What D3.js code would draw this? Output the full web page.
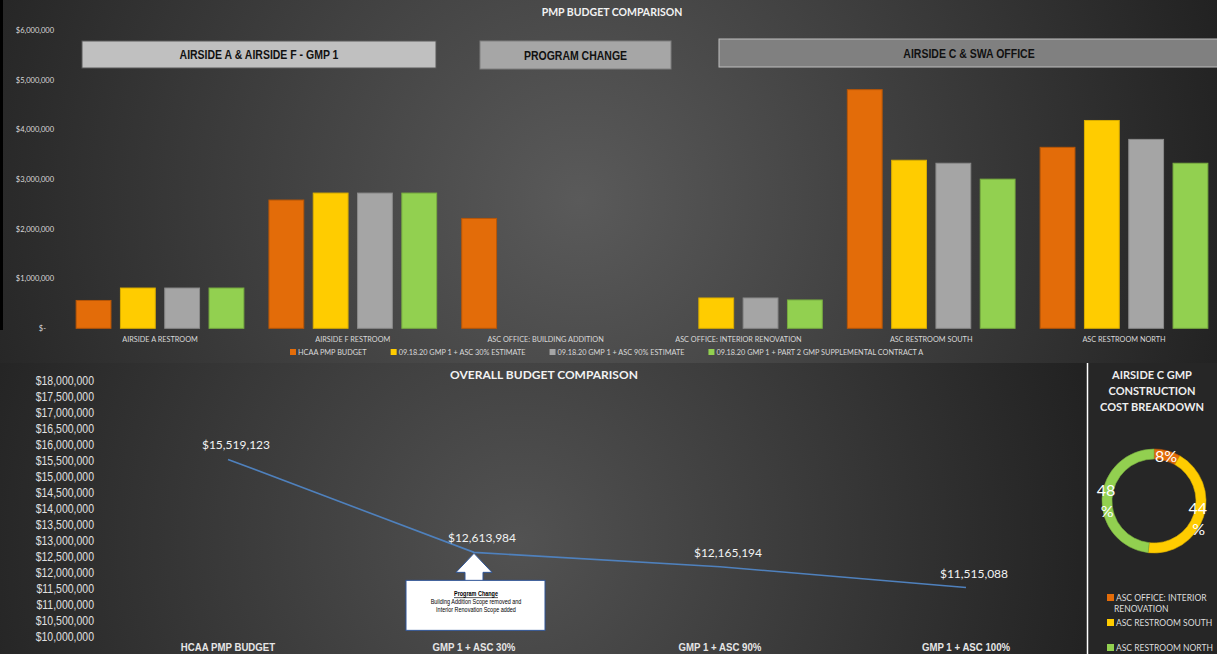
<!DOCTYPE html>
<html>
<head>
<meta charset="utf-8">
<script src="https://cdn.jsdelivr.net/npm/d3@7"></script>
<style>
  body { margin: 0; background: #262626; }
  svg { display: block; }
</style>
</head>
<body>
<svg id="chart" width="1217" height="654"></svg>
<script>
// top chart data
var categories = ['AIRSIDE A RESTROOM', 'AIRSIDE F RESTROOM', 'ASC OFFICE: BUILDING ADDITION',
                  'ASC OFFICE: INTERIOR RENOVATION', 'ASC RESTROOM SOUTH', 'ASC RESTROOM NORTH'];
var seriesNames = ['HCAA PMP BUDGET', '09.18.20 GMP 1 + ASC 30% ESTIMATE',
                   '09.18.20 GMP 1 + ASC 90% ESTIMATE', '09.18.20 GMP 1 + PART 2 GMP SUPPLEMENTAL CONTRACT A'];
var hcaa      = [560000, 2580000, 2210000, null, 4800000, 3640000];
var gmp30     = [810000, 2720000, null, 610000, 3380000, 4180000];
var gmp90     = [810000, 2720000, null, 610000, 3320000, 3800000];
var gmpPart2  = [810000, 2720000, null, 570000, 3000000, 3320000];
var topTicks  = [0, 1000000, 2000000, 3000000, 4000000, 5000000, 6000000];
var groupHeaders = ['AIRSIDE A & AIRSIDE F - GMP 1', 'PROGRAM CHANGE', 'AIRSIDE C & SWA OFFICE'];

// bottom chart data
var stages = ['HCAA PMP BUDGET', 'GMP 1 + ASC 30%', 'GMP 1  + ASC 90%', 'GMP 1 + ASC 100%'];
var totals = [15519123, 12613984, 12165194, 11515088];

// donut data (airside C GMP = last series)
var donutNames = ['ASC OFFICE: INTERIOR RENOVATION', 'ASC RESTROOM SOUTH', 'ASC RESTROOM NORTH'];
var donutValues = [gmpPart2[3], gmpPart2[4], gmpPart2[5]];

var colors = ['#e36c09', '#ffcc00', '#a5a5a5', '#92d050'];
var strokes = ['#b85607', '#d9ad00', '#8a8a8a', '#78ad40'];

var NARROW = 'scale(0.84,1)';

var svg = d3.select('#chart');
var defs = svg.append('defs');

var g1 = defs.append('radialGradient').attr('id', 'bgTop')
  .attr('gradientUnits', 'userSpaceOnUse')
  .attr('cx', 580).attr('cy', 200).attr('r', 700);
g1.append('stop').attr('offset', 0).attr('stop-color', '#5a5a5a');
g1.append('stop').attr('offset', 1).attr('stop-color', '#1f1f1f');

var g2 = defs.append('radialGradient').attr('id', 'bgBot')
  .attr('gradientUnits', 'userSpaceOnUse')
  .attr('cx', 520).attr('cy', 540).attr('r', 620);
g2.append('stop').attr('offset', 0).attr('stop-color', '#525252');
g2.append('stop').attr('offset', 1).attr('stop-color', '#1f1f1f');

// backgrounds
svg.append('rect').attr('x', 0).attr('y', 0).attr('width', 1217).attr('height', 363).attr('fill', 'url(#bgTop)');
svg.append('rect').attr('x', 0).attr('y', 363).attr('width', 1087).attr('height', 291).attr('fill', 'url(#bgBot)');
svg.append('rect').attr('x', 1087).attr('y', 363).attr('width', 130).attr('height', 291).attr('fill', '#262626');
svg.append('line').attr('x1', 1087.5).attr('x2', 1087.5).attr('y1', 363).attr('y2', 654)
  .attr('stroke', '#ffffff').attr('stroke-width', 1.5);
svg.append('rect').attr('x', 0).attr('y', 0).attr('width', 3).attr('height', 330).attr('fill', '#000');

// narrow text helper (Arial Narrow look)
function narrowText(parent, x, y, s) {
  return parent.append('text').attr('transform', 'translate(' + x + ',' + y + ') ' + NARROW)
    .attr('font-family', 'Liberation Sans').text(s);
}

// ---------- top chart ----------
var y = d3.scaleLinear().domain([0, 6000000]).range([328.3, 30]);
var x0 = d3.scaleBand().domain(categories).range([63.6, 1220.4]).paddingInner(0.13).paddingOuter(0.065);
var x1 = d3.scaleBand().domain(d3.range(4)).range([0, x0.bandwidth()]).paddingInner(0.214);

svg.append('text').attr('x', 612).attr('y', 16).attr('text-anchor', 'middle')
  .attr('font-family', 'Lato').attr('font-weight', 'bold').attr('font-size', 10.5)
  .attr('fill', '#f2f2f2').text('PMP BUDGET COMPARISON');

var yAxis = d3.axisLeft(y).tickValues(topTicks).tickSize(0).tickPadding(0)
  .tickFormat(function(d) { return d === 0 ? '$-' : '$' + d3.format(',')(d); });
var ya = svg.append('g').attr('transform', 'translate(54,0)').call(yAxis);
ya.select('.domain').remove();
ya.selectAll('text').attr('font-family', 'Lato').attr('font-size', 7.5).attr('fill', '#d9d9d9');
ya.selectAll('.tick').filter(function(d) { return d === 0; }).select('text').attr('dx', -8);

// group header boxes
var headerBoxes = [
  {x: 82, y: 41, w: 354, h: 27, fill: '#c0c0c0', stroke: '#595959'},
  {x: 480, y: 41, w: 191, h: 28, fill: '#a6a6a6', stroke: '#7f7f7f'},
  {x: 719, y: 39, w: 500, h: 28, fill: '#808080', stroke: '#bfbfbf'}
];
headerBoxes.forEach(function(b, i) {
  svg.append('rect').attr('x', b.x).attr('y', b.y).attr('width', b.w).attr('height', b.h)
    .attr('fill', b.fill).attr('stroke', b.stroke).attr('stroke-width', 1);
  narrowText(svg, b.x + (i === 2 ? 250 : b.w / 2), b.y + b.h / 2 + 4.5, groupHeaders[i])
    .attr('text-anchor', 'middle').attr('font-weight', 'bold').attr('font-size', 12.5)
    .attr('fill', '#111');
});

var allSeries = [hcaa, gmp30, gmp90, gmpPart2];
var groups = svg.selectAll('g.cat').data(categories).enter().append('g')
  .attr('class', 'cat').attr('transform', function(d) { return 'translate(' + x0(d) + ',0)'; });

groups.selectAll('rect').data(function(d, ci) {
    return allSeries.map(function(s, si) { return {si: si, v: s[ci]}; })
      .filter(function(e) { return e.v != null; });
  })
  .enter().append('rect')
  .attr('x', function(d) { return x1(d.si); })
  .attr('y', function(d) { return y(d.v); })
  .attr('width', x1.bandwidth())
  .attr('height', function(d) { return y(0) - y(d.v); })
  .attr('fill', function(d) { return colors[d.si]; })
  .attr('stroke', function(d) { return strokes[d.si]; })
  .attr('stroke-width', 1);

groups.append('text').attr('x', x0.bandwidth() / 2).attr('y', 342)
  .attr('text-anchor', 'middle').attr('font-family', 'Lato').attr('font-size', 7.3)
  .attr('fill', '#d9d9d9').text(function(d) { return d; });

// legend
var lg = svg.append('g').attr('transform', 'translate(290,352)');
var lx = 0;
seriesNames.forEach(function(name, i) {
  lg.append('rect').attr('x', lx).attr('y', -3).attr('width', 6).attr('height', 6).attr('fill', colors[i]);
  var t = lg.append('text').attr('x', lx + 8).attr('y', 2.8).attr('font-family', 'Lato')
    .attr('font-size', 7.3).attr('fill', '#d9d9d9').text(name);
  lx += 8 + t.node().getComputedTextLength() + 24;
});

// ---------- bottom chart ----------
var yb = d3.scaleLinear().domain([10000000, 18000000]).range([636, 380]);
var xb = d3.scaleBand().domain(stages).range([105, 1089]);
var cx = function(d) { return xb(d) + xb.bandwidth() / 2; };

svg.append('text').attr('x', 544).attr('y', 379).attr('text-anchor', 'middle')
  .attr('font-family', 'Lato').attr('font-weight', 'bold').attr('font-size', 12)
  .attr('fill', '#f2f2f2').text('OVERALL BUDGET COMPARISON');

var ybAxis = d3.axisLeft(yb).ticks(16).tickSize(0).tickPadding(0)
  .tickFormat(function(d) { return '$' + d3.format(',')(d); });
var yba = svg.append('g').attr('transform', 'translate(94,0)').call(ybAxis);
yba.select('.domain').remove();
yba.selectAll('text').attr('font-family', 'Liberation Sans').attr('font-size', 12.5)
  .attr('transform', NARROW).attr('fill', '#e0e0e0');

var line = d3.line().x(function(d, i) { return cx(stages[i]); }).y(function(d) { return yb(d); });
svg.append('path').datum(totals).attr('d', line).attr('fill', 'none')
  .attr('stroke', '#4f81bd').attr('stroke-width', 1.6);

svg.selectAll('text.dl').data(totals).enter().append('text').attr('class', 'dl')
  .attr('x', function(d, i) { return cx(stages[i]) + 8; })
  .attr('y', function(d) { return yb(d) - 10; })
  .attr('text-anchor', 'middle').attr('font-family', 'Lato').attr('font-size', 12)
  .attr('fill', '#f2f2f2').text(function(d) { return '$' + d3.format(',')(d); });

stages.forEach(function(s) {
  narrowText(svg, cx(s), 651, s).attr('text-anchor', 'middle').attr('font-weight', 'bold')
    .attr('font-size', 11.5).attr('fill', '#e6e6e6');
});

// program change callout
var ax = cx(stages[1]), ay = yb(totals[1]) + 1;
svg.append('polygon')
  .attr('points', [[ax, ay], [ax - 18, ay + 19], [ax - 9, ay + 19], [ax - 9, ay + 28],
                   [ax + 9, ay + 28], [ax + 9, ay + 19], [ax + 18, ay + 19]].join(' '))
  .attr('fill', '#ffffff').attr('stroke', '#2f5597').attr('stroke-width', 1);
svg.append('rect').attr('x', 406).attr('y', ay + 27).attr('width', 139).attr('height', 50)
  .attr('fill', '#ffffff').attr('stroke', '#2f5597').attr('stroke-width', 1);
narrowText(svg, 476, ay + 43, 'Program Change').attr('text-anchor', 'middle').attr('font-size', 6.5)
  .attr('font-weight', 'bold').attr('text-decoration', 'underline').attr('fill', '#000');
narrowText(svg, 476, ay + 51, 'Building Addition  Scope removed and').attr('text-anchor', 'middle')
  .attr('font-size', 6.5).attr('fill', '#000');
narrowText(svg, 476, ay + 59, 'Interior Renovation  Scope added').attr('text-anchor', 'middle')
  .attr('font-size', 6.5).attr('fill', '#000');

// ---------- donut ----------
var dcx = 1154, dcy = 501;
var title = svg.append('text').attr('text-anchor', 'middle').attr('font-family', 'Lato')
  .attr('font-weight', 'bold').attr('font-size', 11).attr('fill', '#eeeeee');
['AIRSIDE C GMP', 'CONSTRUCTION', 'COST BREAKDOWN'].forEach(function(s, i) {
  title.append('tspan').attr('x', 1152).attr('y', 379 + i * 16).text(s);
});

var pie = d3.pie().sort(null)(donutValues);
var arc = d3.arc().innerRadius(42).outerRadius(52);
var total = d3.sum(donutValues);
var dg = svg.append('g').attr('transform', 'translate(' + dcx + ',' + dcy + ')');
dg.selectAll('path').data(pie).enter().append('path').attr('d', arc)
  .attr('fill', function(d, i) { return colors[[0, 1, 3][i]]; })
  .attr('stroke', function(d, i) { return strokes[[0, 1, 3][i]]; }).attr('stroke-width', 0.6);

var labArc = d3.arc().innerRadius(47).outerRadius(47);
dg.selectAll('text').data(pie).enter().append('text')
  .attr('text-anchor', 'middle').attr('font-family', 'Lato').attr('font-size', 16).attr('fill', '#ffffff')
  .each(function(d, i) {
    var c = labArc.centroid(d);
    var pct = Math.round(d.value / total * 100);
    var t = d3.select(this);
    if (i === 0) {
      t.append('tspan').attr('x', c[0]).attr('y', c[1] + 6).text(pct + '%');
    } else {
      t.append('tspan').attr('x', c[0] - 1).attr('y', c[1] - 2).text(pct);
      t.append('tspan').attr('x', c[0]).attr('y', c[1] + 19).text('%');
    }
  });

var dl = svg.append('g').attr('font-family', 'Lato').attr('font-size', 8.5).attr('fill', '#dddddd');
var legRows = [[594, ['ASC OFFICE: INTERIOR', 'RENOVATION']], [619, ['ASC RESTROOM SOUTH']], [644, ['ASC RESTROOM NORTH']]];
legRows.forEach(function(r, i) {
  dl.append('rect').attr('x', 1107).attr('y', r[0]).attr('width', 7).attr('height', 7)
    .attr('fill', colors[[0, 1, 3][i]]);
  r[1].forEach(function(s, j) {
    dl.append('text').attr('x', j === 0 ? 1116 : 1114).attr('y', r[0] + 7 + j * 11).text(s);
  });
});
</script>
</body>
</html>
